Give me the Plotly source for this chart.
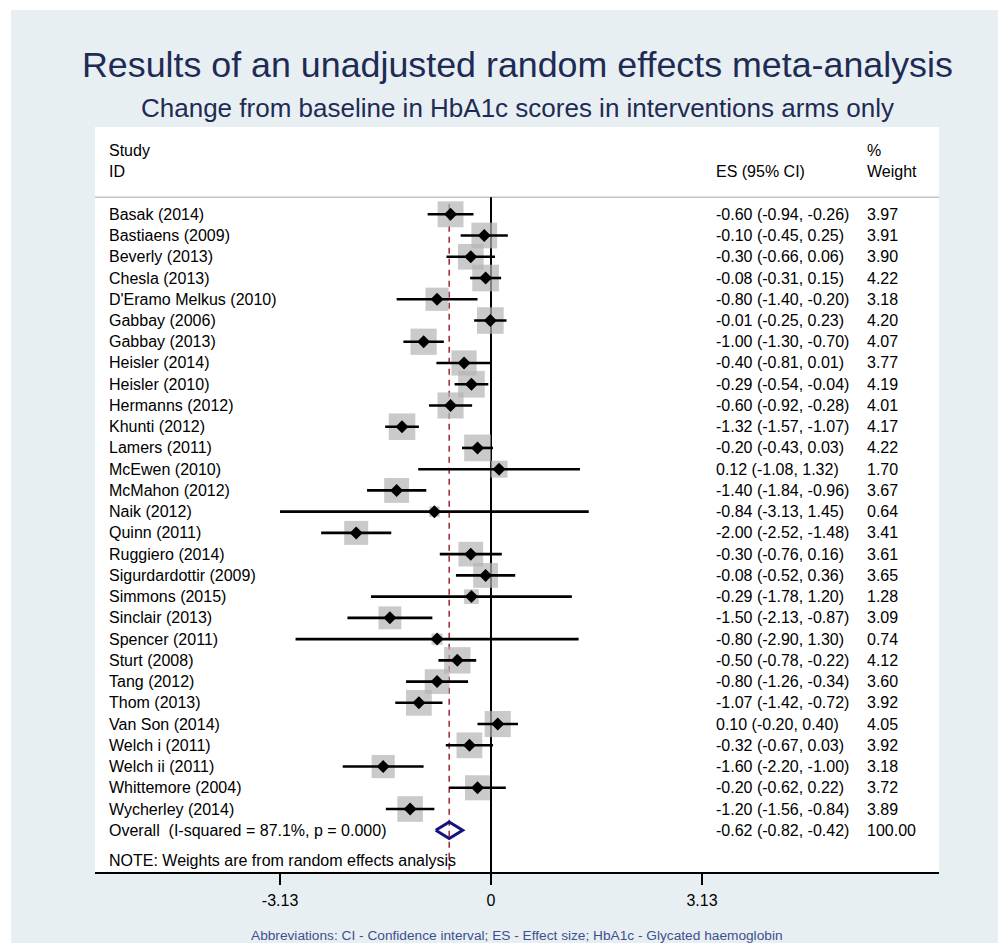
import plotly.graph_objects as go

# ---------------- data ----------------
studies = ["Basak (2014)", "Bastiaens (2009)", "Beverly (2013)", "Chesla (2013)",
           "D'Eramo Melkus (2010)", "Gabbay (2006)", "Gabbay (2013)", "Heisler (2014)",
           "Heisler (2010)", "Hermanns (2012)", "Khunti (2012)", "Lamers (2011)",
           "McEwen (2010)", "McMahon (2012)", "Naik (2012)", "Quinn (2011)",
           "Ruggiero (2014)", "Sigurdardottir (2009)", "Simmons (2015)", "Sinclair (2013)",
           "Spencer (2011)", "Sturt (2008)", "Tang (2012)", "Thom (2013)",
           "Van Son (2014)", "Welch i (2011)", "Welch ii (2011)", "Whittemore (2004)",
           "Wycherley (2014)"]
es = [-0.60, -0.10, -0.30, -0.08, -0.80, -0.01, -1.00, -0.40, -0.29, -0.60,
      -1.32, -0.20, 0.12, -1.40, -0.84, -2.00, -0.30, -0.08, -0.29, -1.50,
      -0.80, -0.50, -0.80, -1.07, 0.10, -0.32, -1.60, -0.20, -1.20]
lo = [-0.94, -0.45, -0.66, -0.31, -1.40, -0.25, -1.30, -0.81, -0.54, -0.92,
      -1.57, -0.43, -1.08, -1.84, -3.13, -2.52, -0.76, -0.52, -1.78, -2.13,
      -2.90, -0.78, -1.26, -1.42, -0.20, -0.67, -2.20, -0.62, -1.56]
hi = [-0.26, 0.25, 0.06, 0.15, -0.20, 0.23, -0.70, 0.01, -0.04, -0.28,
      -1.07, 0.03, 1.32, -0.96, 1.45, -1.48, 0.16, 0.36, 1.20, -0.87,
      1.30, -0.22, -0.34, -0.72, 0.40, 0.03, -1.00, 0.22, -0.84]
weight = [3.97, 3.91, 3.90, 4.22, 3.18, 4.20, 4.07, 3.77, 4.19, 4.01,
          4.17, 4.22, 1.70, 3.67, 0.64, 3.41, 3.61, 3.65, 1.28, 3.09,
          0.74, 4.12, 3.60, 3.92, 4.05, 3.92, 3.18, 3.72, 3.89]
overall_label = "Overall\u00a0 (I-squared = 87.1%, p = 0.000)"
overall_es, overall_lo, overall_hi, overall_w = -0.62, -0.82, -0.42, 100.00
tick_vals = [-3.13, 0, 3.13]
tick_text = ["-3.13", "0", "3.13"]

# ---------------- layout geometry ----------------
W, H = 998, 943
X0_PX, X_UNIT = 491.0, 67.4          # pixel of x=0, px per unit
ROW0_PX, ROW_H = 214.3, 21.24        # pixel of row 0, px per row
P_L, P_R, P_T, P_B = 95, 939, 127, 872

def px2x(px):
    return (px - X0_PX) / X_UNIT

def px2row(py):
    return (py - ROW0_PX) / ROW_H

x_range = [px2x(P_L), px2x(P_R)]
y_range = [px2row(P_B), px2row(P_T)]

FONT = "Liberation Sans, Arial, sans-serif"
n = len(studies)
rows = list(range(n))
overall_row = n

fig = go.Figure()

# weight boxes
fig.add_trace(go.Scatter(
    x=es, y=rows, mode="markers",
    marker=dict(symbol="square", size=[13.0 * w ** 0.5 for w in weight],
                color="#b3b3b3", line=dict(width=0)),
    hoverinfo="skip"))

# CI lines
cx, cy = [], []
for i in range(n):
    cx += [lo[i], hi[i], None]
    cy += [i, i, None]
fig.add_trace(go.Scatter(x=cx, y=cy, mode="lines",
                         line=dict(color="black", width=2.6), hoverinfo="skip"))

# point estimates
fig.add_trace(go.Scatter(x=es, y=rows, mode="markers",
                         marker=dict(symbol="diamond", size=10, color="black"),
                         hoverinfo="skip"))

# overall diamond
dh = 0.39
fig.add_trace(go.Scatter(
    x=[overall_lo, overall_es, overall_hi, overall_es, overall_lo],
    y=[overall_row, overall_row - dh, overall_row, overall_row + dh, overall_row],
    mode="lines", line=dict(color="#14147f", width=3), hoverinfo="skip"))

shapes = [
    # page background
    dict(type="rect", xref="paper", yref="paper", x0=11 / W, x1=1, y0=0, y1=1 - 10 / H,
         fillcolor="#e8eff2", line=dict(width=0), layer="below"),
    # white panel
    dict(type="rect", xref="paper", yref="paper", x0=P_L / W, x1=P_R / W,
         y0=1 - P_B / H, y1=1 - P_T / H, fillcolor="white", line=dict(width=0), layer="below"),
    # header separator
    dict(type="line", xref="x domain", yref="y", x0=0, x1=1, y0=px2row(197.3), y1=px2row(197.3),
         line=dict(color="#c4c4c4", width=1.6), layer="below"),
    # null line
    dict(type="line", xref="x", yref="y", x0=0, x1=0, y0=px2row(197.3), y1=y_range[0],
         line=dict(color="black", width=2), layer="below"),
    # overall effect dashed line
    dict(type="line", xref="x", yref="y", x0=overall_es, x1=overall_es, y0=-0.5, y1=y_range[0],
         line=dict(color="#a63240", width=1.6, dash="6px,5px"), layer="below"),
]

ann = []
COL_STUDY = px2x(107)
COL_ES = px2x(713.5)
COL_W = px2x(865)
FS = 16

def txt(x, y, s, size=FS, color="black"):
    ann.append(dict(x=x, y=y, xref="x", yref="y", text=s, showarrow=False,
                    xanchor="left", yanchor="middle",
                    font=dict(family=FONT, size=size, color=color)))

txt(COL_STUDY, px2row(150.7), "Study")
txt(COL_STUDY, px2row(171.7), "ID")
txt(COL_ES, px2row(171.7), "ES (95% CI)")
txt(COL_W, px2row(150.7), "%")
txt(COL_W, px2row(171.7), "Weight")

for i in range(n):
    txt(COL_STUDY, i, studies[i])
    txt(COL_ES, i, f"{es[i]:.2f} ({lo[i]:.2f}, {hi[i]:.2f})")
    txt(COL_W, i, f"{weight[i]:.2f}")
txt(COL_STUDY, overall_row, overall_label)
txt(COL_ES, overall_row, f"{overall_es:.2f} ({overall_lo:.2f}, {overall_hi:.2f})")
txt(COL_W, overall_row, f"{overall_w:.2f}")
txt(COL_STUDY, px2row(860), "NOTE: Weights are from random effects analysis")

# titles
CX = (P_L + P_R) / 2 / W
ann.append(dict(x=CX, y=1 - 65 / H, xref="paper", yref="paper", showarrow=False,
                text="Results of an unadjusted random effects meta-analysis",
                xanchor="center", yanchor="middle",
                font=dict(family=FONT, size=35.8, color="#1e2b55")))
ann.append(dict(x=CX, y=1 - 108 / H, xref="paper", yref="paper", showarrow=False,
                text="Change from baseline in HbA1c scores in interventions arms only",
                xanchor="center", yanchor="middle",
                font=dict(family=FONT, size=26, color="#1e2b55")))
ann.append(dict(x=CX, y=1 - 935 / H, xref="paper", yref="paper", showarrow=False,
                text="Abbreviations: CI - Confidence interval; ES - Effect size; HbA1c - Glycated haemoglobin",
                xanchor="center", yanchor="middle",
                font=dict(family=FONT, size=13.7, color="#3d4f8f")))

fig.update_layout(
    width=W, height=H, margin=dict(l=0, r=0, t=0, b=0),
    paper_bgcolor="white", plot_bgcolor="rgba(0,0,0,0)",
    showlegend=False, shapes=shapes, annotations=ann,
    xaxis=dict(domain=[P_L / W, P_R / W], range=x_range, showgrid=False, zeroline=False,
               tickvals=tick_vals, ticktext=tick_text, ticks="outside", ticklen=11,
               tickwidth=2, tickcolor="black", showline=True, linecolor="black", linewidth=1.6,
               ticklabelstandoff=2,
               tickfont=dict(family=FONT, size=16, color="black"), fixedrange=True),
    yaxis=dict(domain=[1 - P_B / H, 1 - P_T / H], range=y_range, visible=False,
               showgrid=False, zeroline=False, fixedrange=True),
)

fig.write_html("out.html", config={"displayModeBar": False},
               post_script="document.body.style.margin='0';document.body.style.overflow='hidden';")
